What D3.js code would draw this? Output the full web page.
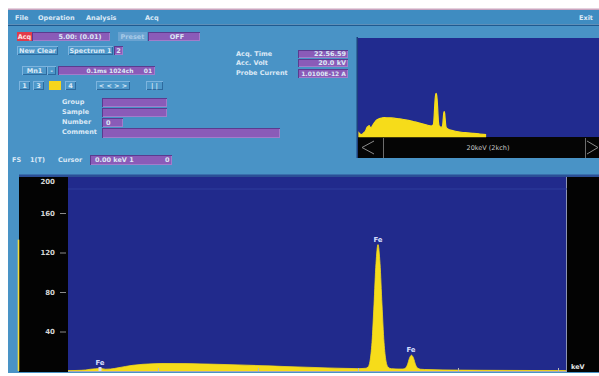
<!DOCTYPE html>
<html>
<head>
<meta charset="utf-8">
<script src="https://cdn.jsdelivr.net/npm/d3@7"></script>
<style>
  html, body { margin: 0; padding: 0; background: #fff; }
  svg { display: block; }
</style>
</head>
<body>
<script>
// ---- EDS spectrum (Fe) : energy in keV, counts ----
const energyKeV = [0.20, 0.40, 0.55, 0.65, 0.75, 0.85, 0.95, 1.05, 1.20, 1.35, 1.50, 1.70, 1.90, 2.10,
  2.40, 2.70, 3.00, 3.30, 3.60, 3.90, 4.20, 4.50, 4.80, 5.10, 5.40, 5.70, 6.00, 6.16, 6.20, 6.24,
  6.28, 6.32, 6.36, 6.40, 6.44, 6.48, 6.52, 6.56, 6.60, 6.64, 6.70, 6.80, 6.90, 6.95, 6.99, 7.03,
  7.07, 7.11, 7.15, 7.19, 7.25, 7.40, 7.70, 8.00, 8.50, 9.00, 9.50, 10.00, 10.50];
const counts = [0.3, 0.6, 1.0, 1.8, 2.2, 2.6, 1.8, 2.0, 3.2, 4.6, 5.8, 6.8, 7.3, 7.6,
  7.5, 7.4, 7.0, 6.6, 6.2, 5.7, 5.2, 4.6, 4.1, 3.6, 3.1, 2.7, 2.4, 2.8, 4.0, 10,
  29, 67, 109, 128, 109, 67, 29, 10, 4.0, 2.6, 2.2, 2.0, 2.0, 3.0, 6.5, 13,
  16, 13, 6.5, 3.0, 1.8, 1.4, 1.1, 0.9, 0.7, 0.6, 0.5, 0.4, 0.3];

// zero-energy strobe peak shown at the left edge of the display
const strobeCounts = 133;

// element markers
const markerNames = ["Fe", "Fe", "Fe"];
const markerKeV = [0.84, 6.40, 7.06];
const markerCounts = [2.6, 128, 16];

// axes
const yTicks = [40, 80, 120, 160, 200];
const xTicks = [2, 4, 6, 8, 10];

const W = 599, H = 376;
const svg = d3.select("body").append("svg").attr("width", W).attr("height", H);
const FONT = "DejaVu Sans, Verdana, sans-serif";

function txt(x, y, s, o = {}) {
  return svg.append("text").attr("x", x).attr("y", y).text(s)
    .attr("font-family", FONT).attr("font-size", o.size || 6.5)
    .attr("font-weight", o.weight || "bold")
    .attr("fill", o.fill || "#dce9f6")
    .attr("text-anchor", o.anchor || "start")
    .attr("dominant-baseline", "central");
}
function rect(x, y, w, h, fill) {
  return svg.append("rect").attr("x", x).attr("y", y).attr("width", w).attr("height", h).attr("fill", fill);
}
function field(x, y, w, h) {
  rect(x, y, w, h, "#5b3b8f");
  rect(x + 1, y + 1, w - 1, h - 1, "#a27ccb");
  rect(x + 1, y + 1, w - 2, h - 2, "#8a5bb8");
}
function button(x, y, w, h, fill) {
  rect(x, y, w, h, "#7db4de");
  rect(x + 1, y + 1, w - 1, h - 1, "#2d6a9e");
  rect(x + 1, y + 1, w - 2, h - 2, fill || "#4d97c9");
}

// ---- window frame ----
rect(0, 0, W, H, "#ffffff");
rect(8, 8.5, W - 8, 1.5, "#c9a4be");
rect(8, 10, W - 8, 14.5, "#3f8cc1");
rect(8, 24.5, W - 8, 1.5, "#1f5a90");
rect(8, 26, W - 8, 347, "#4993c6");

// menu bar
txt(15, 18, "File");
txt(38, 18, "Operation");
txt(86, 18, "Analysis");
txt(145, 18, "Acq");
txt(579, 18, "Exit");

// acquisition row
rect(17, 32, 15, 9, "#e23a4a");
txt(24.5, 36.5, "Acq", { anchor: "middle", fill: "#ffe0e0" });
field(32, 32, 78, 9);
txt(80, 36.5, "5.00:  (0.01)", { anchor: "middle" });
rect(118, 32, 29, 9, "#6aa3d1");
txt(132.5, 36.5, "Preset", { anchor: "middle", fill: "#a9cbe8" });
field(148, 32, 52, 9);
txt(177, 36.5, "OFF", { anchor: "middle" });

button(17, 46, 41, 9);
txt(37.5, 50.5, "New Clear", { anchor: "middle" });
button(68, 46, 45, 9);
txt(90.5, 50.5, "Spectrum 1", { anchor: "middle" });
field(114, 46, 9, 9);
txt(118.5, 50.5, "2", { anchor: "middle" });

button(22, 66, 25, 9);
txt(34.5, 70.5, "Mn1", { anchor: "middle" });
button(47, 66, 9, 9);
txt(51.5, 70.5, "-", { anchor: "middle" });
field(58, 66, 97, 9);
txt(110, 70.5, "0.1ms 1024ch", { anchor: "middle", size: 6 });
txt(148, 70.5, "01", { anchor: "middle", size: 6 });

button(19, 81, 11, 9);
txt(24.5, 85.5, "1", { anchor: "middle" });
button(33, 81, 11, 9);
txt(38.5, 85.5, "3", { anchor: "middle" });
rect(49, 81, 12, 9, "#f6d51c");
button(65, 81, 11, 9);
txt(70.5, 85.5, "4", { anchor: "middle" });
button(96, 81, 34, 9);
txt(113, 85.5, "< < > >", { anchor: "middle" });
button(146, 81, 17, 9);
txt(154.5, 85.5, "| |", { anchor: "middle" });

// sample info
txt(62, 102, "Group");
field(102, 98, 65, 9);
txt(62, 112, "Sample");
field(102, 108, 65, 9);
txt(62, 122, "Number");
field(102, 118, 21, 9);
txt(106, 122.5, "0");
txt(62, 132, "Comment");
field(102, 128, 178, 10);

// acquisition status
txt(236, 54, "Acq. Time");
field(298, 50, 50, 8);
txt(346, 54, "22.56.59", { anchor: "end" });
txt(236, 63, "Acc. Volt");
field(298, 59, 50, 8);
txt(346, 63, "20.0 kV", { anchor: "end" });
txt(236, 73, "Probe Current");
field(298, 69, 50, 9);
txt(346, 73.5, "1.0100E-12 A", { anchor: "end", size: 6 });

// cursor row
txt(12, 160, "FS");
txt(30, 160, "1(T)");
txt(58, 160, "Cursor");
field(90, 155, 82, 10);
txt(95, 160, "0.00 keV  1");
txt(165, 160, "0");

// ---- overview spectrum (log counts, 0-20 keV) ----
const mini = { x0: 358, x1: 599, y0: 38, y1: 137, bar: 158 };
rect(356.5, 37, 1.5, 121, "#1d3f7c");
rect(mini.x0, mini.y0, mini.x1 - mini.x0, mini.y1 - mini.y0, "#212b8f");
rect(mini.x0, mini.y1, mini.x1 - mini.x0, mini.bar - mini.y1, "#050505");
const mx = d3.scaleLinear().domain([0, 20]).range([359, 600]);
const my = d3.scaleLog().domain([1, 1000]).range([mini.y1, 75]);
const spectrum = energyKeV.map((e, i) => ({ e, c: counts[i] }));
svg.append("clipPath").attr("id", "miniClip").append("rect")
  .attr("x", mini.x0).attr("y", mini.y0).attr("width", mini.x1 - mini.x0).attr("height", mini.y1 - mini.y0 + 0.5);
svg.append("path").datum([{ e: 0, c: 0.6 }, ...spectrum])
  .attr("clip-path", "url(#miniClip)")
  .attr("fill", "#f6dc1a").attr("stroke", "#f6dc1a").attr("stroke-width", 1.2)
  .attr("d", d3.area().x(d => mx(d.e)).y0(mini.y1).y1(d => my(1 + d.c)).curve(d3.curveMonotoneX));
svg.append("path").attr("d", "M374,141 L362,147.5 L374,154").attr("fill", "none").attr("stroke", "#8c8c8c").attr("stroke-width", 1);
svg.append("path").attr("d", "M587,141 L598,147.5 L587,154").attr("fill", "none").attr("stroke", "#8c8c8c").attr("stroke-width", 1);
rect(383, 138, 1, 20, "#6c6c6c");
rect(585, 138, 1, 20, "#6c6c6c");
txt(488, 148, "20keV (2kch)", { anchor: "middle", fill: "#c9c9c9", weight: "normal", size: 6.5 });

// ---- main spectrum ----
const plot = { x0: 68, x1: 567, y0: 177, y1: 372 };
rect(19, 174.5, W - 19, 2.5, "#2b4f96");
rect(19, plot.y0, plot.x0 - 19, plot.y1 - plot.y0, "#030303");
rect(plot.x0, plot.y0, plot.x1 - plot.x0, plot.y1 - plot.y0, "#212a8c");
rect(plot.x1, plot.y0, W - plot.x1, plot.y1 - plot.y0, "#030303");
rect(plot.x1 - 1, plot.y0, 1, plot.y1 - plot.y0, "#8c93b4");
rect(plot.x0, 188.5, plot.x1 - plot.x0, 1, "#2f3c9c");

const x = d3.scaleLinear().domain([0, 10]).range([58, 558]);
const y = d3.scaleLinear().domain([0, 200]).range([371, 173.5]);

svg.append("clipPath").attr("id", "plotClip").append("rect")
  .attr("x", plot.x0).attr("y", plot.y0).attr("width", plot.x1 - plot.x0 - 1).attr("height", plot.y1 - plot.y0);
svg.append("path").datum(spectrum)
  .attr("clip-path", "url(#plotClip)")
  .attr("fill", "#f6dc1a").attr("stroke", "#f6dc1a").attr("stroke-width", 0.8)
  .attr("d", d3.area().x(d => x(d.e)).y0(y(0)).y1(d => y(d.c)).curve(d3.curveMonotoneX));

// strobe peak marker at the left edge
svg.append("line").attr("x1", 18.5).attr("x2", 18.5).attr("y1", y(strobeCounts)).attr("y2", y(0))
  .attr("stroke", "#f2dc3c").attr("stroke-width", 1.6);

// y axis
const yAxis = svg.append("g").attr("transform", "translate(66,0)")
  .call(d3.axisLeft(y).tickValues(yTicks).tickSize(6).tickPadding(5).tickFormat(d3.format("d")));
yAxis.select(".domain").remove();
yAxis.selectAll(".tick line").attr("stroke", "#8a8a8a");
yAxis.selectAll(".tick text").attr("fill", "#d6d6d6").attr("font-family", FONT)
  .attr("font-size", 7).attr("font-weight", "bold");
yAxis.selectAll(".tick").filter(d => d === 200).each(function () {
  d3.select(this).select("line").remove();
  d3.select(this).select("text").attr("dy", "1.45em");
});

// x axis along the bottom of the plot
const xAxis = svg.append("g").attr("transform", "translate(0,371)")
  .call(d3.axisBottom(x).tickValues(xTicks).tickSize(-3).tickFormat(""));
xAxis.select(".domain").remove();
xAxis.selectAll(".tick line").attr("stroke", "#b8b8b8");
svg.append("line").attr("x1", plot.x0).attr("x2", plot.x1).attr("y1", 371.5).attr("y2", 371.5)
  .attr("stroke", "#a9a9b4").attr("stroke-width", 1);
txt(571, 367, "keV", { fill: "#e6e6e6", size: 6.5 });

// element labels
svg.append("line").attr("x1", x(markerKeV[0])).attr("x2", x(markerKeV[0]))
  .attr("y1", 367).attr("y2", 371).attr("stroke", "#d8dcf0").attr("stroke-width", 3);
markerNames.forEach((n, i) => {
  txt(x(markerKeV[i]), y(markerCounts[i]) - 5, n, { anchor: "middle", fill: "#d4defc", size: 7 });
});
</script>
</body>
</html>
